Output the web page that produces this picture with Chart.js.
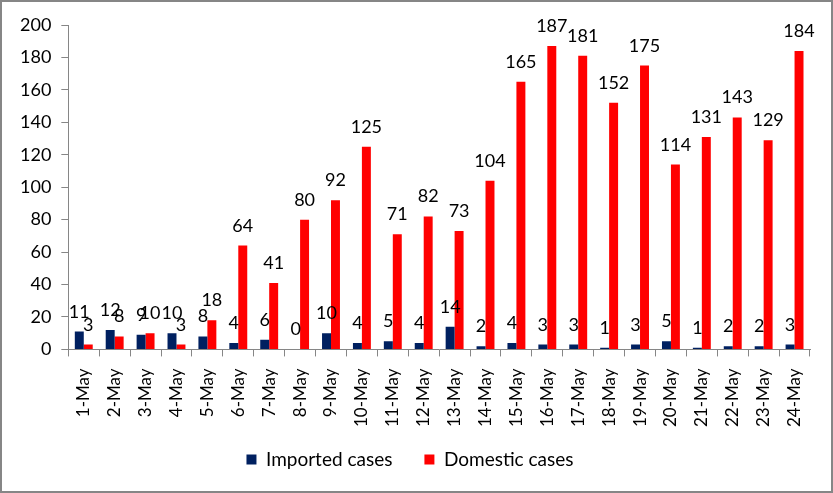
<!DOCTYPE html>
<html>
<head>
<meta charset="utf-8">
<script src="https://cdn.jsdelivr.net/npm/chart.js@4"></script>
<style>
  body { margin: 0; background: #fff; }
  #box { width: 833px; height: 493px; box-sizing: border-box; border: 2px solid #868686; }
</style>
</head>
<body>
<div id="box"><canvas id="myChart" width="829" height="489"></canvas></div>
<script>
let days = ['1-May','2-May','3-May','4-May','5-May','6-May','7-May','8-May','9-May','10-May','11-May','12-May',
  '13-May','14-May','15-May','16-May','17-May','18-May','19-May','20-May','21-May','22-May','23-May','24-May']
let imported = [11,12,9,10,8,4,6,0,10,4,5,4,14,2,4,3,3,1,3,5,1,2,2,3]
let domestic = [3,8,10,3,18,64,41,80,92,125,71,82,73,104,165,187,181,152,175,114,131,143,129,184]

const font = 'Lato, Calibri, sans-serif'

// numbers over the bars
const barLabels = {
  id: 'barLabels',
  afterLayout(chart) {
    // x scale box was shrunk in afterFit, let its labels draw past it
    chart.scales.x.bottom += 30
  },
  afterDatasetsDraw(chart) {
    const c = chart.ctx
    c.save()
    c.font = '18px ' + font
    c.fillStyle = '#000'
    c.textAlign = 'center'
    c.textBaseline = 'alphabetic'
    chart.data.datasets.forEach((ds, i) => {
      chart.getDatasetMeta(i).data.forEach((bar, j) => {
        c.fillText(ds.data[j], bar.x, bar.y - 14)
      })
    })
    c.restore()
  }
}

new Chart(document.getElementById('myChart'), {
  type: 'bar',
  data: {
    labels: days,
    datasets: [{
      label: 'Imported cases',
      data: imported,
      backgroundColor: '#002060',
      categoryPercentage: 0.58,
      barPercentage: 1.0
    }, {
      label: 'Domestic cases',
      data: domestic,
      backgroundColor: '#ff0000',
      categoryPercentage: 0.58,
      barPercentage: 1.0
    }]
  },
  options: {
    responsive: false,
    animation: false,
    layout: { padding: { top: 23, right: 21, left: 8, bottom: 12 } },
    plugins: {
      tooltip: { enabled: false },
      legend: {
        position: 'bottom',
        labels: { boxWidth: 10, boxHeight: 10, color: '#000', font: { family: font, size: 19 }, padding: 32 }
      }
    },
    scales: {
      x: {
        grid: { drawOnChartArea: false, color: '#868686', tickLength: 7 },
        border: { color: '#868686' },
        ticks: { color: '#000', font: { family: font, size: 17 }, maxRotation: 90, minRotation: 90, padding: 12 },
        afterFit(scale) { scale.height -= 21 }
      },
      y: {
        min: 0, max: 200,
        grid: { drawOnChartArea: false, color: '#868686', tickLength: 7 },
        border: { color: '#868686' },
        ticks: { stepSize: 20, color: '#000', font: { family: font, size: 18 }, padding: 10 }
      }
    }
  },
  plugins: [barLabels]
})
</script>
</body>
</html>
